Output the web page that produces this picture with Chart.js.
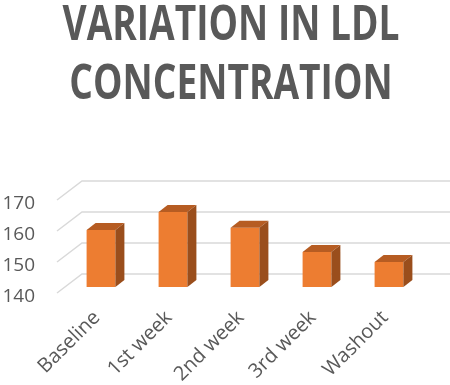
<!DOCTYPE html>
<html>
<head>
<meta charset="utf-8">
<script src="https://cdn.jsdelivr.net/npm/chart.js@4"></script>
<style>
  html, body { margin: 0; padding: 0; background: #fff; }
  #wrap { width: 450px; height: 385px; }
</style>
</head>
<body>
<div id="wrap"><canvas id="ldlChart" width="450" height="385"></canvas></div>
<script>
  // chart data
  var categories = ['Baseline', '1st week', '2nd week', '3rd week', 'Washout'];
  var ldlValues = [158.4, 164.2, 159.1, 151.3, 148.1];
  var yTicks = [140, 150, 160, 170];
  var titleLines = ['VARIATION IN LDL', 'CONCENTRATION'];

  var frontColor = '#ED7D31';
  var topColor = '#B65C22';
  var sideColor = '#9A4E1C';
  var gridColor = '#D9D9D9';
  var textColor = '#595959';

  // fake 3D offsets (pixels) relative to the plane the bars stand in
  var barDepth = { dx: 9, dy: -7 };
  var floorFront = { dx: -8, dy: 6 };
  var floorBack = { dx: 17, dy: -13 };

  // Title drawn by hand so it can be squeezed like the narrow original font
  var narrowTitle = {
    id: 'narrowTitle',
    afterDraw: function (chart) {
      var ctx = chart.ctx;
      ctx.save();
      ctx.font = "bold 48px 'Open Sans', sans-serif";
      ctx.fillStyle = textColor;
      ctx.textAlign = 'center';
      ctx.textBaseline = 'alphabetic';
      var squeeze = 337 / ctx.measureText(titleLines[0]).width;
      var baselines = [40, 99];
      titleLines.forEach(function (line, i) {
        ctx.save();
        ctx.translate(231, baselines[i]);
        ctx.scale(squeeze, 1);
        ctx.fillText(line, 0, 0);
        ctx.restore();
      });
      ctx.restore();
    }
  };

  // Function to draw the floor diagonals and the back wall gridlines
  var wallGrid = {
    id: 'wallGrid',
    beforeDatasetsDraw: function (chart) {
      var ctx = chart.ctx;
      var y = chart.scales.y;
      var area = chart.chartArea;
      ctx.save();
      ctx.strokeStyle = gridColor;
      ctx.lineWidth = 1.5;
      yTicks.forEach(function (v) {
        var py = y.getPixelForValue(v);
        ctx.beginPath();
        ctx.moveTo(area.left + floorFront.dx, py + floorFront.dy);
        ctx.lineTo(area.left + floorBack.dx, py + floorBack.dy);
        ctx.lineTo(chart.width, py + floorBack.dy);
        ctx.stroke();
      });
      ctx.restore();
    }
  };

  // Function to add top and side faces to every bar
  var barFaces = {
    id: 'barFaces',
    afterDatasetsDraw: function (chart) {
      var ctx = chart.ctx;
      var meta = chart.getDatasetMeta(0);
      var floor = chart.scales.y.getPixelForValue(chart.scales.y.min);
      ctx.save();
      meta.data.forEach(function (bar) {
        var x0 = bar.x - bar.width / 2;
        var x1 = bar.x + bar.width / 2;
        var top = bar.y;
        ctx.fillStyle = topColor;
        ctx.beginPath();
        ctx.moveTo(x0, top);
        ctx.lineTo(x1, top);
        ctx.lineTo(x1 + barDepth.dx, top + barDepth.dy);
        ctx.lineTo(x0 + barDepth.dx, top + barDepth.dy);
        ctx.closePath();
        ctx.fill();
        ctx.fillStyle = sideColor;
        ctx.beginPath();
        ctx.moveTo(x1, top);
        ctx.lineTo(x1 + barDepth.dx, top + barDepth.dy);
        ctx.lineTo(x1 + barDepth.dx, floor + barDepth.dy);
        ctx.lineTo(x1, floor);
        ctx.closePath();
        ctx.fill();
      });
      ctx.restore();
    }
  };

  var ctx = document.getElementById('ldlChart').getContext('2d');
  var ldlChart = new Chart(ctx, {
    type: 'bar',
    data: {
      labels: categories,
      datasets: [{
        data: ldlValues,
        backgroundColor: frontColor,
        borderWidth: 0,
        barPercentage: 0.4,
        categoryPercentage: 1.0
      }]
    },
    options: {
      responsive: false,
      animation: false,
      layout: { padding: { left: 0, right: 25, top: 194, bottom: 0 } },
      plugins: {
        legend: { display: false },
        tooltip: { enabled: false },
        title: { display: false }
      },
      scales: {
        x: {
          grid: { display: false, drawTicks: false },
          border: { display: false },
          ticks: {
            color: textColor,
            font: { family: "'Open Sans', sans-serif", size: 20 },
            maxRotation: 45,
            minRotation: 45,
            padding: 19,
            labelOffset: -4
          },
          afterFit: function (scale) { scale.height = 98; }
        },
        y: {
          min: 140,
          max: 170,
          grid: { display: false, drawTicks: false },
          border: { display: false },
          ticks: {
            stepSize: 10,
            color: textColor,
            font: { family: "'Open Sans', sans-serif", size: 19 },
            padding: 30,
            labelOffset: 10
          },
          afterFit: function (scale) { scale.width = 65; }
        }
      }
    },
    plugins: [wallGrid, barFaces, narrowTitle]
  });
</script>
</body>
</html>
